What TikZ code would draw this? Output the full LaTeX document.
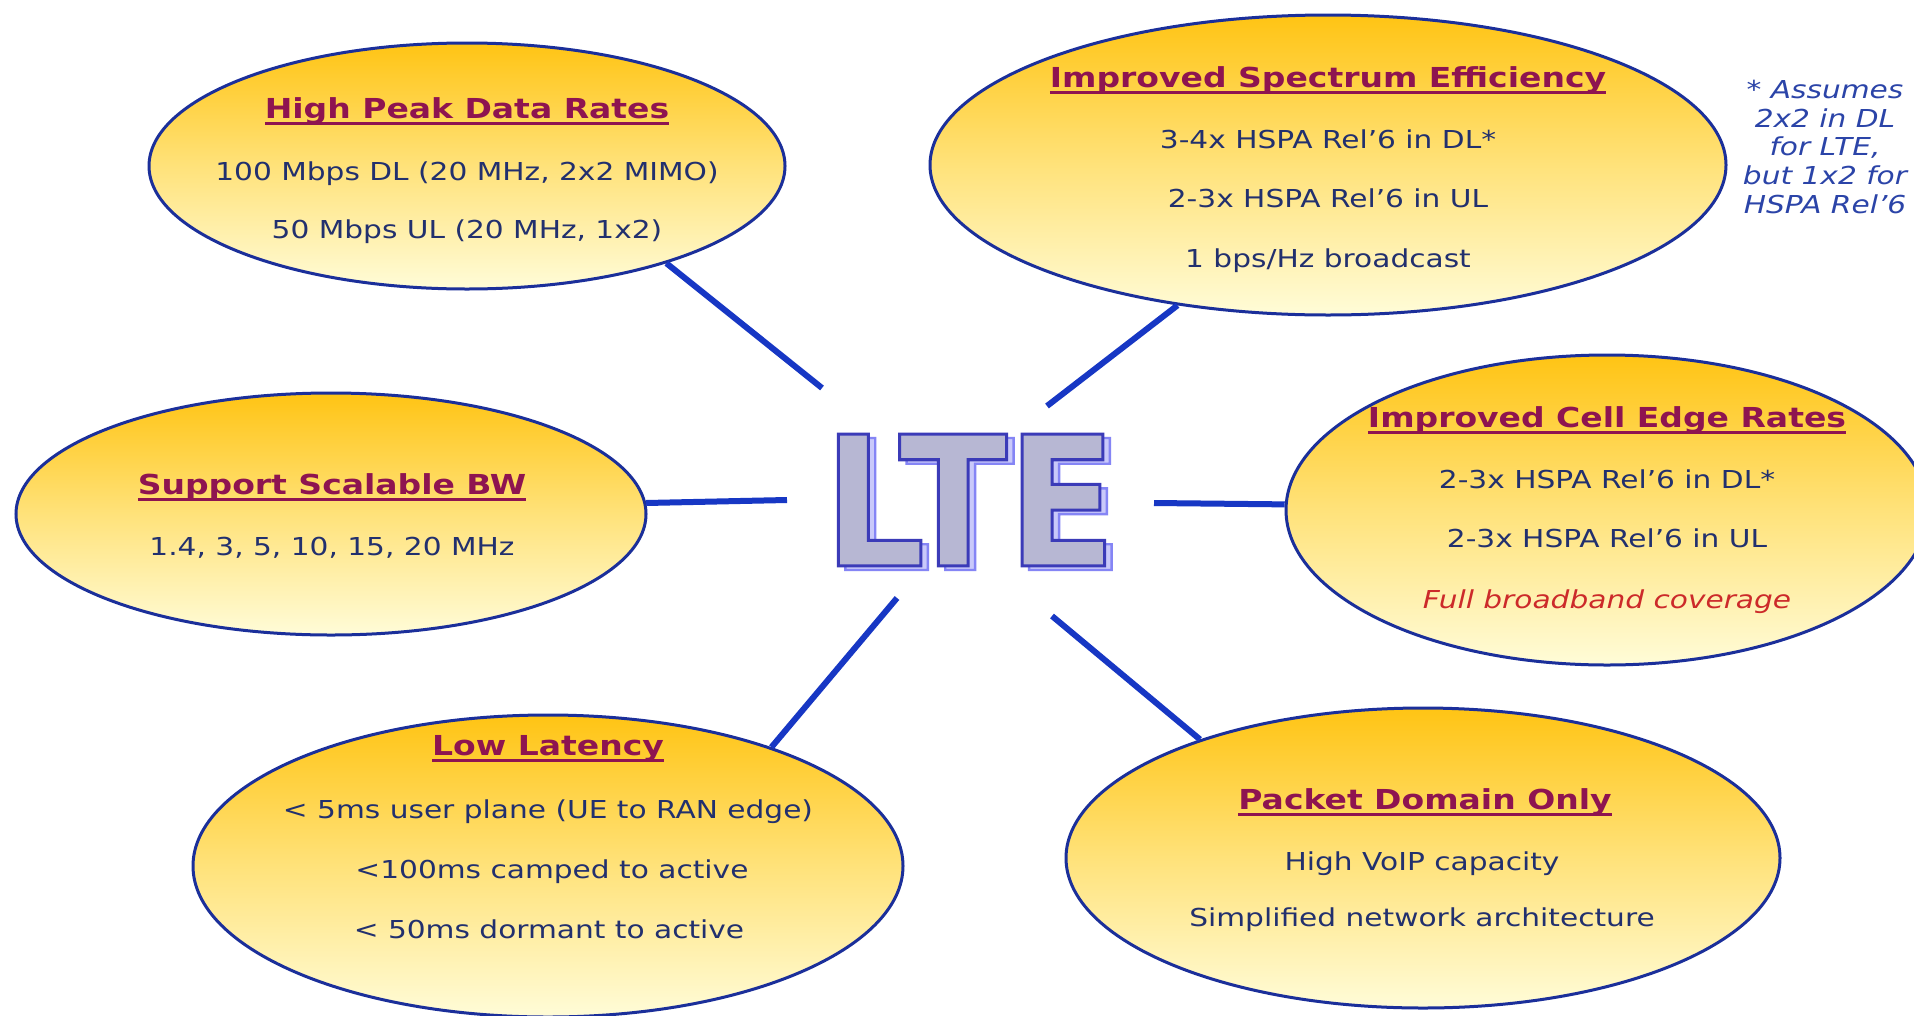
\documentclass[tikz,border=0pt]{standalone}
\usepackage{fontspec}
\setmainfont{DejaVu Sans}[FakeStretch=1.2]
\newfontfamily\ltefont{DejaVu Sans}[FakeStretch=0.88]
\usetikzlibrary{shapes.geometric}

\definecolor{bubbleedge}{HTML}{1B2F9A}
\definecolor{goldtop}{HTML}{FFC414}
\definecolor{goldmid}{HTML}{FFE27A}
\definecolor{cream}{HTML}{FFFCD8}
\definecolor{titlec}{HTML}{8E1450}
\definecolor{bodyc}{HTML}{22306E}
\definecolor{redc}{HTML}{CC2A2A}
\definecolor{notec}{HTML}{2B44A8}
\definecolor{spokec}{HTML}{1737C4}
\definecolor{ltefill}{HTML}{B7B7D3}
\definecolor{ltebackfill}{HTML}{C9C9FA}

% underlined heading: rule drawn just below the baseline
\newlength\headulw
\newcommand\headul[1]{\settowidth\headulw{#1}\leavevmode\rlap{\rule[-7pt]{\headulw}{3pt}}#1}

% filled and stroked glyphs: #1 stroke colour (rgb), #2 stroke width, #3 text
\newcommand\strokedword[3]{%
  \special{pdf:literal direct 2 Tr #2 w 0 j #1 RG}#3\special{pdf:literal direct 0 Tr}}

% outlined word with a lighter copy set slightly right and down behind it
\newcommand\shadowword[1]{%
  \leavevmode\rlap{\hspace{7pt}\raisebox{-4pt}{\color{ltebackfill}\strokedword{0.52 0.52 0.96}{2.4}{#1}}}%
  {\color{ltefill}\strokedword{0.23 0.23 0.72}{3}{#1}}}

\tikzset{
  bubble/.style={ellipse, draw=bubbleedge, line width=3pt, inner sep=0pt,
    top color=goldtop, bottom color=cream, middle color=goldmid},
  hd/.style={anchor=base, text=titlec, inner sep=0pt,
    font=\bfseries\fontsize{27.5}{33}\selectfont},
  bd/.style={anchor=base, text=bodyc, inner sep=0pt,
    font=\fontsize{24.7}{30}\selectfont},
  bdred/.style={bd, text=redc, font=\itshape\fontsize{24.7}{30}\selectfont},
  note/.style={align=center, text=notec, inner sep=0pt,
    font=\itshape\fontsize{24.7}{28.7}\selectfont},
  spoke/.style={draw=spokec, line width=6pt},
  bigword/.style={inner sep=0pt, font=\ltefont\bfseries\fontsize{181}{181}\selectfont},
}

\begin{document}
\begin{tikzpicture}[x=1pt, y=-1pt]
\useasboundingbox (0,0) rectangle (1914,1015);
\fill[white] (0,0) rectangle (1914,1015);

% feature bubbles
\node[bubble, minimum width=636pt, minimum height=246pt] (E1) at (467,166) {};
\node[bubble, minimum width=796pt, minimum height=300pt] (E2) at (1328,165) {};
\node[bubble, minimum width=630pt, minimum height=242pt] (E3) at (331,514) {};
\node[bubble, minimum width=642pt, minimum height=310pt] (E4) at (1607,510) {};
\node[bubble, minimum width=710pt, minimum height=302pt] (E5) at (548,866) {};
\node[bubble, minimum width=714pt, minimum height=300pt] (E6) at (1423,858) {};

% central word
\node[bigword] (lte) at (970,502) {\shadowword{LTE}};

% spokes from the bubbles toward the centre
\coordinate (c1) at (822,388);
\coordinate (c2) at (1047,406);
\coordinate (c3) at (787,500);
\coordinate (c4) at (1154,503);
\coordinate (c5) at (897,598);
\coordinate (c6) at (1052,616);
\draw[spoke] (E1.-26) -- (c1);
\draw[spoke] (E2.-137) -- (c2);
\draw[spoke] (E3.2.5) -- (c3);
\draw[spoke] (E4.179) -- (c4);
\draw[spoke] (E5.28) -- (c5);
\draw[spoke] (E6.152) -- (c6);

% High Peak Data Rates
\node[hd] (t1) at (467,118) {\headul{High Peak Data Rates}};
\node[bd] (t1a) at (467,180) {100 Mbps DL (20 MHz, 2x2 MIMO)};
\node[bd] (t1b) at (467,238) {50 Mbps UL (20 MHz, 1x2)};

% Improved Spectrum Efficiency
\node[hd] (t2) at (1328,87) {\headul{Improved Spectrum Efficiency}};
\node[bd] (t2a) at (1328,148) {3-4x HSPA Rel’6 in DL*};
\node[bd] (t2b) at (1328,207) {2-3x HSPA Rel’6 in UL};
\node[bd] (t2c) at (1328,267) {1 bps/Hz broadcast};

% Support Scalable BW
\node[hd] (t3) at (332,494) {\headul{Support Scalable BW}};
\node[bd] (t3a) at (332,555) {1.4, 3, 5, 10, 15, 20 MHz};

% Improved Cell Edge Rates
\node[hd] (t4) at (1607,427) {\headul{Improved Cell Edge Rates}};
\node[bd] (t4a) at (1607,488) {2-3x HSPA Rel’6 in DL*};
\node[bd] (t4b) at (1607,547) {2-3x HSPA Rel’6 in UL};
\node[bdred] (t4c) at (1607,608) {Full broadband coverage};

% Low Latency
\node[hd] (t5) at (548,755) {\headul{Low Latency}};
\node[bd] (t5a) at (548,818) {< 5ms user plane (UE to RAN edge)};
\node[bd] (t5b) at (552,878) {<100ms camped to active};
\node[bd] (t5c) at (549,938) {< 50ms dormant to active};

% Packet Domain Only
\node[hd] (t6) at (1425,809) {\headul{Packet Domain Only}};
\node[bd] (t6a) at (1422,870) {High VoIP capacity};
\node[bd] (t6b) at (1422,926) {Simplified network architecture};

% footnote
\node[note] (fn) at (1825,147) {* Assumes\\2x2 in DL\\for LTE,\\but 1x2 for\\HSPA Rel’6};
\end{tikzpicture}
\end{document}
